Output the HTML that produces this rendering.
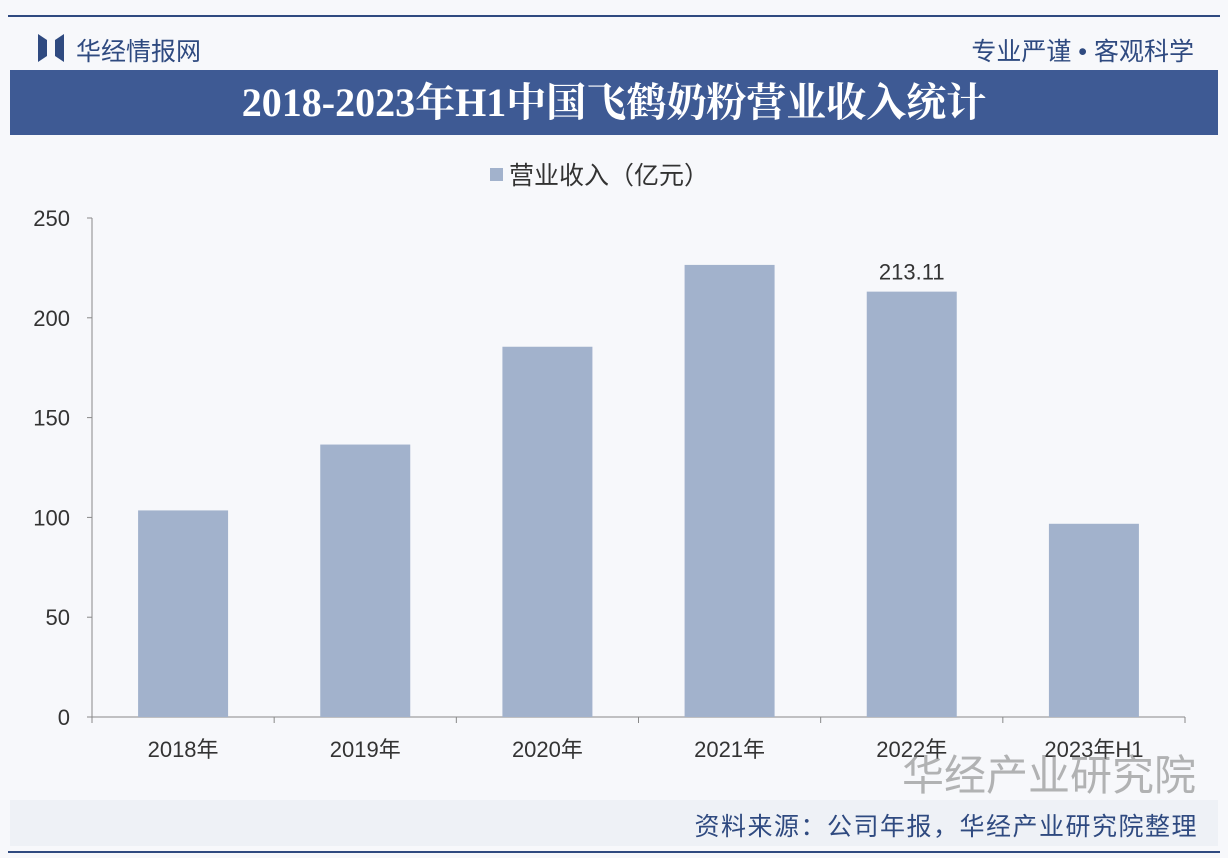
<!DOCTYPE html>
<html><head><meta charset="utf-8"><style>
body{margin:0;width:1228px;height:858px;background:#f7f8fb;font-family:"Liberation Sans","Noto Sans CJK SC",sans-serif;position:relative;overflow:hidden}
.abs{position:absolute}
</style></head><body>
<div class="abs" style="left:8px;top:15px;width:1212px;height:2px;background:#2f4a80"></div>
<div class="abs" style="left:38px;top:34px;width:26px;height:28px">
<svg width="26" height="28"><polygon points="0,0 9,6 9,22 0,28" fill="#2f4a80"/><polygon points="26,0 17,6 17,22 26,28" fill="#2f4a80"/></svg></div>
<div class="abs" style="left:76px;top:32px;font-size:25px;color:#2f4a80">华经情报网</div>
<div class="abs" style="right:34px;top:32px;font-size:25px;color:#2f4a80">专业严谨 • 客观科学</div>
<div class="abs" style="left:10px;top:70px;width:1208px;height:65px;background:#3e5a94;color:#fff;font-family:'Liberation Serif','Noto Serif CJK SC',serif;font-weight:bold;font-size:40px;line-height:65px;text-align:center">2018-2023年H1中国飞鹤奶粉营业收入统计</div>
<div class="abs" style="left:490px;top:156px;font-size:25px;color:#333;display:flex;align-items:center"><span style="display:inline-block;width:13px;height:13px;background:#a2b2cc;margin-right:6px"></span>营业收入（亿元）</div>
<svg class="abs" style="left:0;top:0" width="1228" height="858" id="chart"></svg>
<div class="abs" style="left:10px;top:800px;width:1208px;height:46px;background:#eef1f6"></div>
<div class="abs" style="left:902px;top:742px;font-size:42px;color:rgba(120,120,120,0.55)">华经产业研究院</div>
<div class="abs" style="right:30px;top:807px;font-size:25px;letter-spacing:1.5px;color:#2f4a80">资料来源：公司年报，华经产业研究院整理</div>
<div class="abs" style="left:8px;top:851px;width:1212px;height:2px;background:#2f4a80"></div>
<script>
const categories=["2018年","2019年","2020年","2021年","2022年","2023年H1"];
const revenue=[103.5,136.5,185.5,226.5,213.11,96.8];
const yTicks=[0,50,100,150,200,250];
const labels=[null,null,null,null,"213.11",null];
const svg=document.getElementById('chart');const NS="http://www.w3.org/2000/svg";
const x0=92,x1=1185,y0=717,y1=218,ymax=250;
const y=v=>y0-(v/ymax)*(y0-y1);
const step=(x1-x0)/categories.length;
const xc=i=>x0+step*(i+0.5);
function mk(t,a){const e=document.createElementNS(NS,t);for(const k in a)e.setAttribute(k,a[k]);svg.appendChild(e);return e;}
let ax=mk('line',{x1:x0,y1:y1,x2:x0,y2:y0,stroke:'#888'});


let bx=mk('line',{x1:x0,y1:y0,x2:x1,y2:y0,stroke:'#888'});


yTicks.forEach(v=>{mk('line',{x1:x0-5,y1:y(v),x2:x0,y2:y(v),stroke:'#888'});
const t=mk('text',{x:x0-22,y:y(v)+8,'text-anchor':'end','font-size':22,fill:'#333'});t.textContent=v;

});
for(let i=0;i<=categories.length;i++)mk('line',{x1:x0+step*i,y1:y0,x2:x0+step*i,y2:y0+6,stroke:'#888'});
categories.forEach((c,i)=>{
const r=mk('rect',{x:xc(i)-45,y:y(revenue[i]),width:90,height:y0-y(revenue[i]),fill:'#a2b2cc'});


const t=mk('text',{x:xc(i),y:y0+40,'text-anchor':'middle','font-size':22,fill:'#333'});t.textContent=c;


if(labels[i]){const l=mk('text',{x:xc(i),y:y(revenue[i])-12,'text-anchor':'middle','font-size':22,fill:'#333'});l.textContent=labels[i];

}
});
</script>
</body></html>
